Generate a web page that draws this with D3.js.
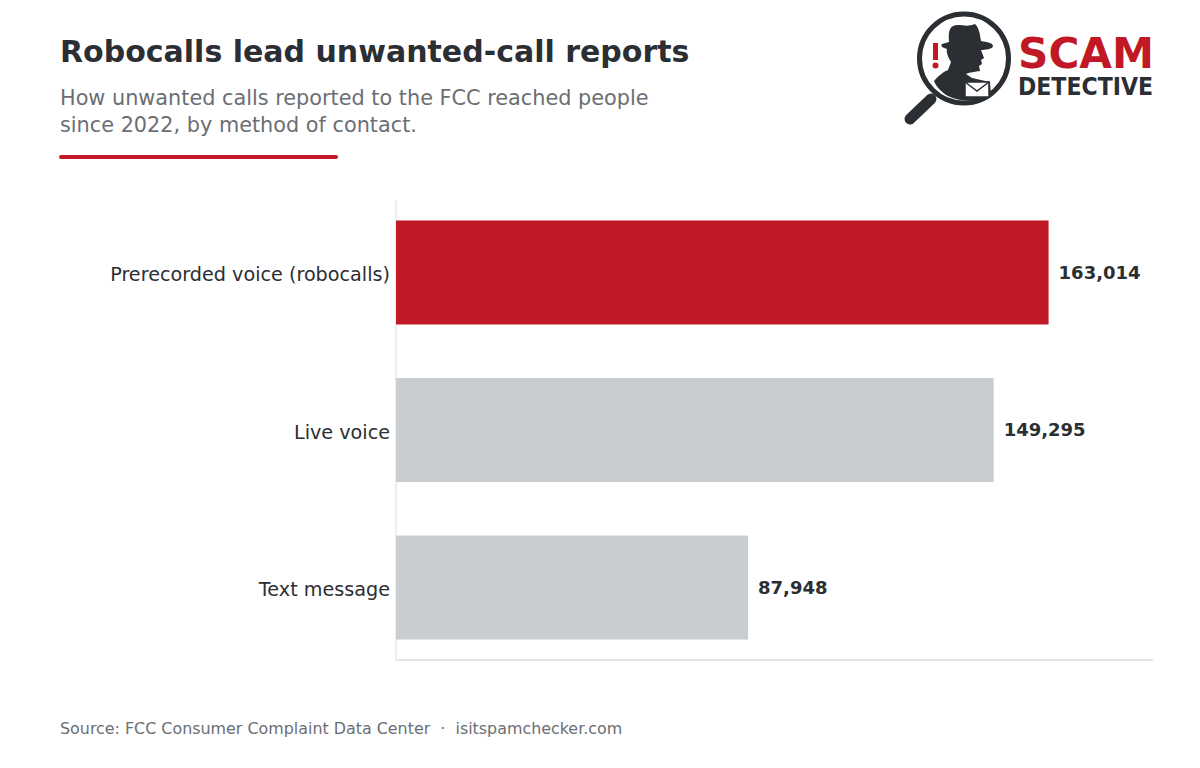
<!DOCTYPE html>
<html>
<head>
<meta charset="utf-8">
<script src="https://cdn.jsdelivr.net/npm/d3@7"></script>
<style>
  body { margin: 0; background: #fff; }
  svg { display: block; font-family: "DejaVu Sans", sans-serif; }
</style>
</head>
<body>
<div id="chart"></div>
<script>
const categories = ["Prerecorded voice (robocalls)", "Live voice", "Text message"];
const values = [163014, 149295, 87948];
const highlight = ["Prerecorded voice (robocalls)"];

const WIDTH = 1200, HEIGHT = 768;
const MARGIN = { left: 396, right: 47, top: 200, bottom: 108 };
const INNER_WIDTH = WIDTH - MARGIN.left - MARGIN.right;
const INNER_HEIGHT = HEIGHT - MARGIN.top - MARGIN.bottom;

const DARK = "#2b2e33", GREY = "#6b6e73", RED = "#c01824";

const root = d3.select("#chart")
  .append("svg")
  .attr("width", WIDTH)
  .attr("height", HEIGHT);

// header
root.append("text")
  .attr("x", 60).attr("y", 62)
  .style("font-size", "30px").style("font-weight", "bold")
  .attr("fill", DARK)
  .text("Robocalls lead unwanted-call reports");

root.append("text")
  .attr("x", 60).attr("y", 105)
  .style("font-size", "20.8px").attr("fill", GREY)
  .selectAll("tspan")
  .data(["How unwanted calls reported to the FCC reached people", "since 2022, by method of contact."])
  .join("tspan")
  .attr("x", 60)
  .attr("dy", (d, i) => i ? 27 : 0)
  .text(d => d);

root.append("line")
  .attr("x1", 61).attr("x2", 336).attr("y1", 157).attr("y2", 157)
  .attr("stroke", RED).attr("stroke-width", 4).attr("stroke-linecap", "round");

// logo
const logo = root.append("g");
logo.append("line")
  .attr("x1", 931).attr("y1", 99).attr("x2", 910).attr("y2", 119)
  .attr("stroke", DARK).attr("stroke-width", 11).attr("stroke-linecap", "round");
logo.append("circle")
  .attr("cx", 964).attr("cy", 58.5).attr("r", 44.5)
  .attr("fill", "#fff").attr("stroke", DARK).attr("stroke-width", 5);
// detective silhouette
logo.append("path")
  .attr("fill", DARK)
  .attr("d", "M949,42 C948,30 950,25 958,25 C963,25 968,27 975,24 C979,28 980,34 981,41 C987,42 993,43 993,46 C993,49 985,50 981,50 L984,58 L981,60 L982,64 L979,66 L980,71 C975,72 970,72 966,74 L972,78 L990,82 L991,95 C980,101 962,103 948,96 C941,92 936,86 934,81 C938,76 943,72 948,70 L951,62 C948,57 946,52 947,49 C943,48 940,46 942,44 Z");
// envelope
logo.append("rect")
  .attr("x", 965).attr("y", 82).attr("width", 24).attr("height", 15)
  .attr("fill", "#fff").attr("stroke", DARK).attr("stroke-width", 1.5);
logo.append("path")
  .attr("d", "M965,82 L977,91 L989,82")
  .attr("fill", "none").attr("stroke", DARK).attr("stroke-width", 1.5);
// exclamation
logo.append("rect")
  .attr("x", 933).attr("y", 43).attr("width", 5).attr("height", 17)
  .attr("fill", RED);
logo.append("circle")
  .attr("cx", 935.5).attr("cy", 65.5).attr("r", 3)
  .attr("fill", RED);
logo.append("text")
  .attr("x", 1018).attr("y", 68)
  .attr("textLength", 136).attr("lengthAdjust", "spacingAndGlyphs")
  .style("font-size", "43px").style("font-weight", "bold")
  .attr("fill", RED).text("SCAM");
logo.append("text")
  .attr("x", 1018).attr("y", 95)
  .attr("textLength", 135).attr("lengthAdjust", "spacingAndGlyphs")
  .style("font-size", "24px").style("font-weight", "bold")
  .attr("fill", DARK).text("DETECTIVE");

const svg = root.append("g")
  .attr("transform", `translate(${MARGIN.left}, ${MARGIN.top})`);

// scales
const x = d3.scaleLinear()
  .domain([0, d3.max(values) * 1.16])
  .range([0, INNER_WIDTH]);

const y = d3.scaleBand()
  .domain(categories)
  .range([0, INNER_HEIGHT])
  .paddingInner(0.34)
  .paddingOuter(0.13);

const data = categories.map((c, i) => ({ cat: c, val: values[i] }));

// axes
svg.append("line")
  .attr("x1", 0).attr("x2", 0).attr("y1", 0).attr("y2", INNER_HEIGHT)
  .attr("stroke", "#dcdde0").attr("stroke-width", 1);
svg.append("line")
  .attr("x1", 0).attr("x2", INNER_WIDTH).attr("y1", INNER_HEIGHT).attr("y2", INNER_HEIGHT)
  .attr("stroke", "#dcdde0").attr("stroke-width", 1.5);

// bars
svg.selectAll("rect.bar")
  .data(data)
  .join("rect")
  .attr("class", "bar")
  .attr("x", 0)
  .attr("y", d => y(d.cat))
  .attr("width", d => x(d.val))
  .attr("height", y.bandwidth())
  .attr("fill", d => highlight.includes(d.cat) ? RED : "#c9ccd0");

// category labels
svg.selectAll("text.cat")
  .data(data)
  .join("text")
  .attr("class", "cat")
  .attr("x", -6)
  .attr("y", d => y(d.cat) + y.bandwidth() / 2 + 2)
  .attr("dy", "0.35em")
  .attr("text-anchor", "end")
  .style("font-size", "19.2px")
  .attr("fill", DARK)
  .text(d => d.cat);

// value labels
svg.selectAll("text.val")
  .data(data)
  .join("text")
  .attr("class", "val")
  .attr("x", d => x(d.val) + 10)
  .attr("y", d => y(d.cat) + y.bandwidth() / 2)
  .attr("dy", "0.35em")
  .style("font-size", "18px").style("font-weight", "bold")
  .attr("fill", DARK)
  .text(d => d3.format(",")(d.val));

// footer
root.append("text")
  .attr("x", 60).attr("y", 734)
  .style("font-size", "15.9px").style("white-space", "pre").attr("fill", GREY)
  .text("Source: FCC Consumer Complaint Data Center  \u00b7  isitspamchecker.com");
</script>
</body>
</html>
